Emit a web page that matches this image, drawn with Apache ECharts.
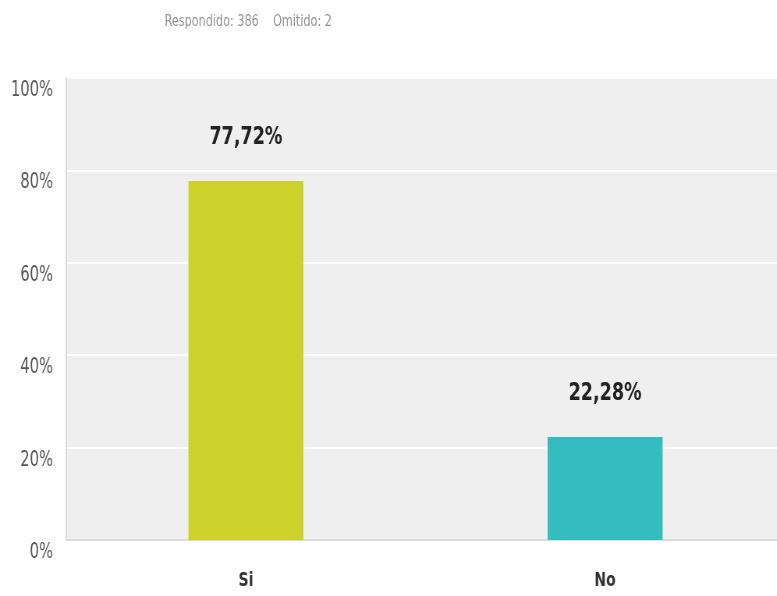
<!DOCTYPE html>
<html><head><meta charset="utf-8">
<script src="https://cdn.jsdelivr.net/npm/echarts@6/dist/echarts.min.js"></script>
<style>
html,body{margin:0;padding:0;background:#fff;width:777px;height:596px;overflow:hidden}
#c{width:1006px;height:596px;transform:scaleX(0.78);transform-origin:0 0}
</style>
</head><body><div id="c"></div>
<script>
var categories = ['Si', 'No'];
var values = [77.72, 22.28];
var barColors = ['#ccd22a', '#33bdbf'];
var yTicks = [0, 20, 40, 60, 80, 100];
var titleText = 'Respondido: 386    Omitido: 2';

var FONT = '"DejaVu Sans Condensed", "Liberation Sans Narrow", "Liberation Sans", sans-serif';
var chart = echarts.init(document.getElementById('c'), null, {renderer: 'canvas'});
chart.setOption({
  animation: false,
  backgroundColor: '#fff',
  title: {
    text: titleText, left: 206, top: 9,
    textStyle: {fontFamily: FONT, fontSize: 16, fontWeight: 'normal', color: '#939393'}
  },
  grid: {left: 85, right: 0, top: 78, bottom: 56, show: true, backgroundColor: '#efefef', borderWidth: 0, containLabel: false},
  xAxis: {
    type: 'category', data: categories,
    axisLine: {show: true, lineStyle: {color: '#dcdcdc', width: 2}},
    axisTick: {show: false},
    axisLabel: {margin: 31, fontFamily: FONT, fontSize: 20, color: '#333', fontWeight: 'bold'},
    splitLine: {show: false}
  },
  yAxis: {
    type: 'value', min: 0, max: 100, interval: 20,
    axisLine: {show: true, lineStyle: {color: '#dcdcdc', width: 2}},
    axisTick: {show: false},
    axisLabel: {
      margin: 17, fontFamily: FONT, fontSize: 21, color: '#555', verticalAlign: 'top', padding: [2, 0, 0, 0],
      formatter: function (v) { return yTicks.indexOf(v) >= 0 ? v + '%' : ''; }
    },
    splitLine: {show: true, lineStyle: {color: '#ffffff', width: 2}}
  },
  series: [{
    type: 'bar',
    barWidth: '32%',
    data: values.map(function (v, i) { return {value: v, itemStyle: {color: barColors[i]}}; }),
    label: {
      show: true, position: 'top', distance: 31,
      fontFamily: FONT, fontSize: 25, fontWeight: 'bold', color: '#222',
      formatter: function (p) { return p.value.toFixed(2).replace('.', ',') + '%'; }
    }
  }]
});
</script></body></html>
